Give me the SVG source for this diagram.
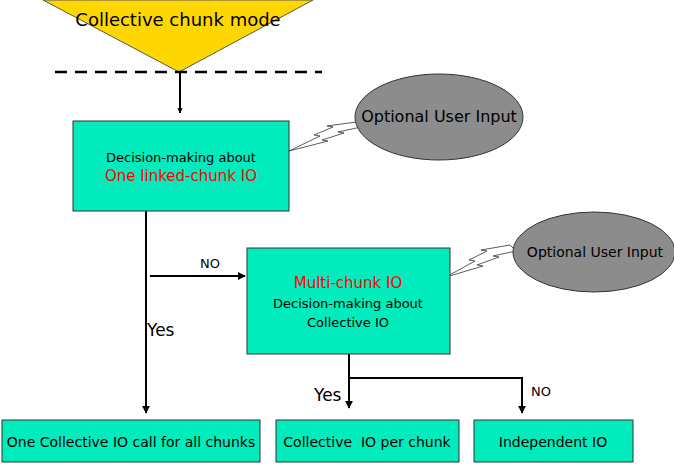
<svg xmlns="http://www.w3.org/2000/svg" width="674" height="464" viewBox="0 0 674 464">
<defs>
<marker id="ah" viewBox="0 0 10 10" refX="9" refY="5" markerWidth="4" markerHeight="4" orient="auto"><path d="M0,0L10,5L0,10z" fill="#000"/></marker>
<marker id="ahb" viewBox="0 0 10 10" refX="9" refY="5" markerWidth="2.6" markerHeight="2.6" orient="auto"><path d="M0,0L10,5L0,10z" fill="#000"/></marker>
</defs>
<style>
text{font-family:"DejaVu Sans","Liberation Sans",sans-serif;fill:#000}
.box{fill:#00ecbc;stroke:#333;stroke-width:1}
.ell{fill:#8c8c8c;stroke:#333;stroke-width:1}
.bolt{fill:#fff;stroke:#333;stroke-width:0.8}
.ln{fill:none;stroke:#000;stroke-width:2}
.red{fill:#ff0000}
</style>
<rect width="674" height="464" fill="#fff"/>
<g id="start">
<polygon points="43,0 313,0 179,72" fill="#ffd700" stroke="#555" stroke-width="1"/>
<text x="178" y="26" font-size="18" text-anchor="middle">Collective chunk mode</text>
<line x1="55" y1="72" x2="322" y2="72" stroke="#000" stroke-width="2.5" stroke-dasharray="12,8"/>
</g>
<g id="connectors">
<line class="ln" x1="180" y1="72" x2="180" y2="113" stroke-width="4" marker-end="url(#ahb)"/>
<line class="ln" x1="146" y1="195" x2="146" y2="413" marker-end="url(#ah)"/>
<line class="ln" x1="150" y1="276" x2="245" y2="276" marker-end="url(#ah)"/>
<line class="ln" x1="349" y1="345" x2="349" y2="408" marker-end="url(#ah)"/>
<polyline class="ln" points="349,378 522,378 522,413" marker-end="url(#ah)"/>
<text x="200" y="268" font-size="13">NO</text>
<text x="147" y="336" font-size="17">Yes</text>
<text x="314" y="401" font-size="17">Yes</text>
<text x="531" y="396" font-size="13">NO</text>
</g>
<g id="bolt1"><polygon class="bolt" points="289,151 320,136 314,135 333,127 327,126 356,122 361,127 338,132 344,133 322,140 328,141" /></g>
<g id="bolt2"><polygon class="bolt" points="446,277 475,261 469,260 487,251 481,250 510,245 516,251 493,256 499,257 477,265 483,266"/></g>
<g id="input1"><ellipse class="ell" cx="439" cy="117" rx="84" ry="43"/><text x="439" y="122" font-size="16" text-anchor="middle">Optional User Input</text></g>
<g id="input2"><ellipse class="ell" cx="594" cy="252" rx="81" ry="40"/><text x="595" y="257" font-size="14" text-anchor="middle">Optional User Input</text></g>
<g id="decision1"><rect class="box" x="73" y="121" width="216" height="90"/>
<text x="181" y="162" font-size="13" text-anchor="middle">Decision-making about</text>
<text x="181" y="181" font-size="15" text-anchor="middle" class="red">One linked-chunk IO</text></g>
<g id="decision2"><rect class="box" x="247" y="248" width="203" height="106"/>
<text x="348" y="288" font-size="15" text-anchor="middle" class="red">Multi-chunk IO</text>
<text x="348" y="308" font-size="13" text-anchor="middle">Decision-making about</text>
<text x="348" y="327" font-size="13" text-anchor="middle">Collective IO</text></g>
<g id="out1"><rect class="box" x="2" y="420" width="258" height="42"/><text x="131" y="447" font-size="14" text-anchor="middle">One Collective IO call for all chunks</text></g>
<g id="out2"><rect class="box" x="276" y="420" width="183" height="42"/><text x="367" y="447" font-size="14" text-anchor="middle" xml:space="preserve">Collective  IO per chunk</text></g>
<g id="out3"><rect class="box" x="474" y="420" width="159" height="42"/><text x="553" y="447" font-size="14" text-anchor="middle">Independent IO</text></g>
</svg>
